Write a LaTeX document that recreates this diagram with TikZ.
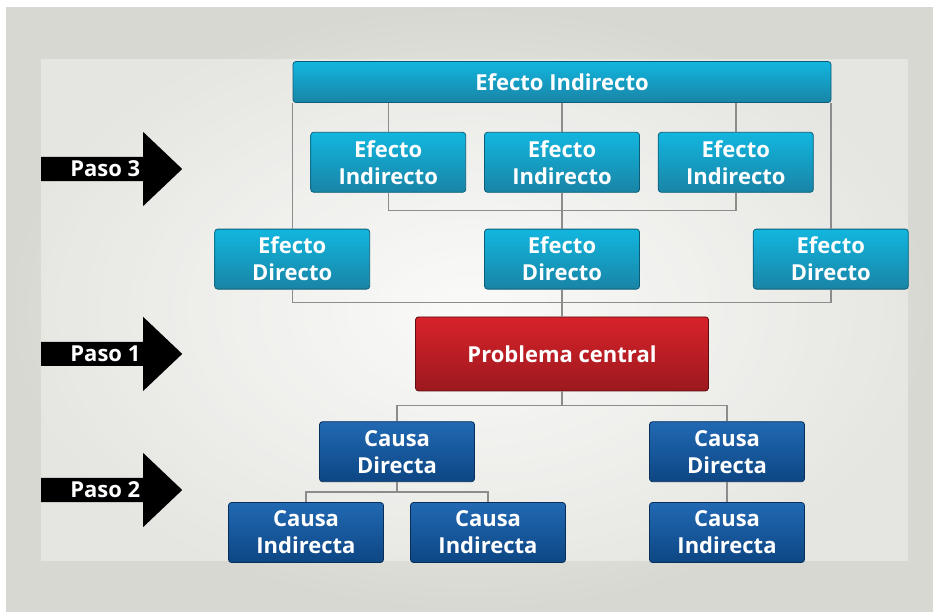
\documentclass[tikz,border=0pt]{standalone}
\usepackage{fontspec}
\setmainfont{Open Sans}
\usetikzlibrary{positioning,shapes.arrows}

\definecolor{efectoTop}{HTML}{12B6DF}
\definecolor{efectoBottom}{HTML}{1984A6}
\definecolor{efectoEdge}{HTML}{0C5E78}
\definecolor{causaTop}{HTML}{2169B3}
\definecolor{causaBottom}{HTML}{0D4683}
\definecolor{causaEdge}{HTML}{082F5A}
\definecolor{problemaTop}{HTML}{D8222A}
\definecolor{problemaBottom}{HTML}{9C191E}
\definecolor{problemaEdge}{HTML}{5E0E12}
\definecolor{lineGray}{HTML}{8C8C8C}
\definecolor{fondoOuter}{HTML}{D8D8D2}
\definecolor{fondoMid}{HTML}{F8F8F6}

\begin{document}
\begin{tikzpicture}
	[x=1pt,y=-1pt,node distance=18pt,font=\bfseries\fontsize{22}{27}\selectfont]
	\tikzstyle{caja}=[rectangle, rounded corners=3pt, text=white, align=center, minimum width=155pt, minimum height=60pt, inner sep=0pt, line width=0.8pt]
	\tikzstyle{efecto}=[caja, top color=efectoTop, bottom color=efectoBottom, draw=efectoEdge]
	\tikzstyle{causa}=[caja, top color=causaTop, bottom color=causaBottom, draw=causaEdge]
	\tikzstyle{problema}=[caja, top color=problemaTop, bottom color=problemaBottom, draw=problemaEdge, minimum width=293pt, minimum height=74pt]
	\tikzstyle{paso}=[single arrow, fill=black, text=white, anchor=tail, minimum height=141pt, minimum width=74pt, single arrow head extend=17pt, single arrow tip angle=87, inner sep=0pt]
	\tikzstyle{conector}=[draw=lineGray, line width=1.4pt]

	% fondo
	\fill[white] (0,0) rectangle (933,611);
	\shade[inner color=fondoMid, outer color=fondoOuter] (6,7) rectangle (933,611);
	\fill[white, opacity=0.35] (41,59) rectangle (908,561);

	% efectos
	\node[efecto, minimum width=538pt, minimum height=41pt] (eitop) at (562,82) {Efecto Indirecto};
	\node[efecto] (ei2) [below=29pt of eitop] {Efecto\\Indirecto};
	\node[efecto] (ei1) [left=of ei2] {Efecto\\Indirecto};
	\node[efecto] (ei3) [right=of ei2] {Efecto\\Indirecto};
	\node[efecto] (ed2) [below=36pt of ei2] {Efecto\\Directo};
	\node[efecto] (ed1) [left=114pt of ed2] {Efecto\\Directo};
	\node[efecto] (ed3) [right=113pt of ed2] {Efecto\\Directo};

	% problema y causas
	\node[problema] (pc) [below=27pt of ed2] {Problema central};
	\node[causa] (cd1) [below=30pt of pc, xshift=-165pt] {Causa\\Directa};
	\node[causa] (cd2) [below=30pt of pc, xshift=165pt] {Causa\\Directa};
	\node[causa] (ci1) [below=20pt of cd1, xshift=-91pt] {Causa\\Indirecta};
	\node[causa] (ci2) [below=20pt of cd1, xshift=91pt] {Causa\\Indirecta};
	\node[causa] (ci3) [below=20pt of cd2] {Causa\\Indirecta};

	% pasos
	\node[paso] (paso3) at (41,169) {Paso 3};
	\node[paso] (paso1) at (paso3.tail |- pc) {Paso 1};
	\node[paso] (paso2) at (41,490) {Paso 2};

	% conectores
	\draw[conector] (eitop.south -| ed1.north) -- (ed1.north);
	\draw[conector] (eitop.south -| ed3.north) -- (ed3.north);
	\draw[conector] (eitop.south -| ei1.north) -- (ei1.north);
	\draw[conector] (eitop.south) -- (ei2.north);
	\draw[conector] (eitop.south -| ei3.north) -- (ei3.north);
	\draw[conector] (ei1.south) -- ++(0,18) -| (ei3.south);
	\draw[conector] (ei2.south) -- (ed2.north);
	\draw[conector] (ed1.south) -- ++(0,13) -| (ed3.south);
	\draw[conector] (ed2.south) -- (pc.north);
	\draw[conector] (pc.south) -- ++(0,14) -| (cd1.north);
	\draw[conector] (pc.south) ++(0,14) -| (cd2.north);
	\draw[conector] (cd1.south) -- ++(0,10) -| (ci1.north);
	\draw[conector] (cd1.south) ++(0,10) -| (ci2.north);
	\draw[conector] (cd2.south) -- (ci3.north);

\end{tikzpicture}
\end{document}
